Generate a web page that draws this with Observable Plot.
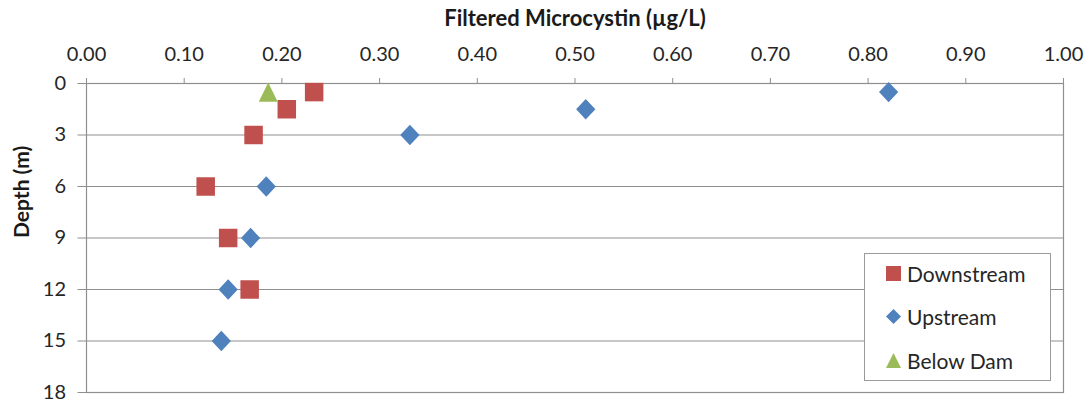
<!DOCTYPE html>
<html>
<head>
<meta charset="utf-8">
<script src="https://cdn.jsdelivr.net/npm/d3@7"></script>
<script src="https://cdn.jsdelivr.net/npm/@observablehq/plot@0.6"></script>
<style>
  html, body { margin: 0; padding: 0; background: #fff; }
  #wrap { position: relative; width: 1091px; height: 402px; font-family: Lato, "Open Sans", sans-serif; }
  #legend { position: absolute; left: 864px; top: 253px; width: 185px; height: 126px; border: 1px solid #9a9a9a; background: #fff; }
  .row { position: absolute; left: 0; height: 30px; display: flex; align-items: center; font-size: 21px; color: #262626; }
  .row svg { margin-left: 21px; margin-right: 6px; }
</style>
</head>
<body>
<div id="wrap"></div>
<script>
// ---- data ----
const seriesNames = ["Downstream", "Upstream", "Below Dam"];
const seriesColors = ["#C0504D", "#4F81BD", "#9BBB59"];

const downstreamDepth = [0.5, 1.5, 3, 6, 9, 12];
const downstreamConc  = [0.233, 0.205, 0.171, 0.122, 0.145, 0.167];

const upstreamDepth = [0.5, 1.5, 3, 6, 9, 12, 15];
const upstreamConc  = [0.821, 0.511, 0.331, 0.184, 0.168, 0.145, 0.138];

const belowDamDepth = [0.5];
const belowDamConc  = [0.186];

const xTicks = [0, 0.1, 0.2, 0.3, 0.4, 0.5, 0.6, 0.7, 0.8, 0.9, 1.0];
const xTickLabels = ["0.00", "0.10", "0.20", "0.30", "0.40", "0.50", "0.60", "0.70", "0.80", "0.90", "1.00"];
const yTicks = [0, 3, 6, 9, 12, 15, 18];
const yTickLabels = ["0", "3", "6", "9", "12", "15", "18"];

const xTitle = "Filtered Microcystin (µg/L)";
const yTitle = "Depth (m)";

// ---- build rows ----
const toRows = (name, depths, concs) => depths.map((d, i) => ({series: name, depth: d, conc: concs[i]}));
const downstream = toRows(seriesNames[0], downstreamDepth, downstreamConc);
const upstream = toRows(seriesNames[1], upstreamDepth, upstreamConc);
const belowDam = toRows(seriesNames[2], belowDamDepth, belowDamConc);

// ---- marker shapes (Excel-like) ----
const symSquare = {draw(ctx, size) { const h = Math.sqrt(size) / 2; ctx.rect(-h, -h, 2 * h, 2 * h); }};
const symDiamond = {draw(ctx, size) { const s = Math.sqrt(size); const w = s * 0.52, h = s * 0.55;
  ctx.moveTo(0, -h); ctx.lineTo(w, 0); ctx.lineTo(0, h); ctx.lineTo(-w, 0); ctx.closePath(); }};
const symTriangle = {draw(ctx, size) { const s = Math.sqrt(size); const w = s * 0.51, h = s * 0.52;
  ctx.moveTo(0, -h); ctx.lineTo(w, h); ctx.lineTo(-w, h); ctx.closePath(); }};

const R = 18.5 / Math.sqrt(Math.PI);
const gridColor = "#8f8f8f";
const textColor = "#262626";

const chart = Plot.plot({
  width: 1091,
  height: 402,
  marginTop: 83,
  marginBottom: 10,
  marginLeft: 86,
  marginRight: 28,
  style: {fontFamily: "Lato, 'Open Sans', sans-serif", fontSize: "20px", color: textColor, background: "#fff", overflow: "visible"},
  x: {domain: [0, 1]},
  y: {domain: [0, 18], reverse: true},
  marks: [
    Plot.gridY(yTicks, {stroke: gridColor, strokeOpacity: 1, strokeWidth: 1.2}),
    Plot.frame({stroke: gridColor, strokeWidth: 1.2}),
    Plot.axisX({anchor: "top", ticks: xTicks, tickSize: 6, tickPadding: 17, stroke: gridColor, fill: textColor,
      tickFormat: d => xTickLabels[xTicks.indexOf(d)], label: null}),
    Plot.axisY({anchor: "left", ticks: yTicks, tickSize: 8.5, tickPadding: 12, stroke: gridColor, fill: textColor,
      tickFormat: d => yTickLabels[yTicks.indexOf(d)], label: null}),
    Plot.text([xTitle], {frameAnchor: "top", dy: -65, lineAnchor: "middle", fontWeight: "bold", fontSize: 22, fill: "#1a1a1a"}),
    Plot.text([yTitle], {frameAnchor: "left", dx: -64, rotate: -90, lineAnchor: "middle", fontWeight: "bold", fontSize: 21, fill: "#1a1a1a"}),
    Plot.dot(downstream, {x: "conc", y: "depth", r: R, symbol: symSquare, fill: seriesColors[0], stroke: null}),
    Plot.dot(upstream, {x: "conc", y: "depth", r: R, symbol: symDiamond, fill: seriesColors[1], stroke: null}),
    Plot.dot(belowDam, {x: "conc", y: "depth", r: R, symbol: symTriangle, fill: seriesColors[2], stroke: null})
  ]
});

const wrap = document.getElementById("wrap");
wrap.appendChild(chart);

// ---- legend ----
const legend = document.createElement("div");
legend.id = "legend";
const shapes = [
  '<rect x="0" y="0" width="15" height="15" fill="COLOR"/>',
  '<path d="M7.5 0 L15 7.5 L7.5 15 L0 7.5 Z" fill="COLOR"/>',
  '<path d="M7.5 0 L15 15 L0 15 Z" fill="COLOR"/>'
];
const rowCenters = [19, 62.5, 106];
seriesNames.forEach((name, i) => {
  const row = document.createElement("div");
  row.className = "row";
  row.style.top = (rowCenters[i] - 15) + "px";
  row.innerHTML = '<svg width="15" height="15" viewBox="0 0 15 15">' + shapes[i].replace("COLOR", seriesColors[i]) + '</svg><span>' + name + '</span>';
  legend.appendChild(row);
});
wrap.appendChild(legend);
</script>
</body>
</html>
